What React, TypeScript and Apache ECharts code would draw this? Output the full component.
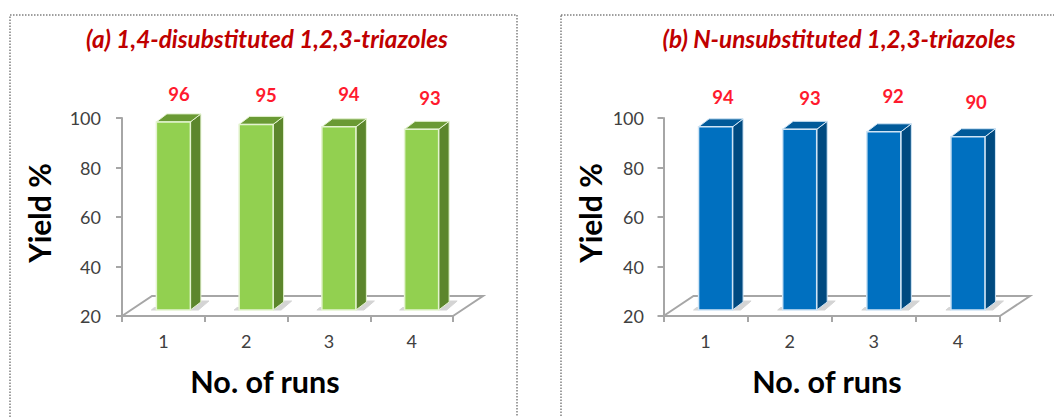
import React, { useEffect, useRef } from "react";
import * as echarts from "echarts";

const runs = ["1", "2", "3", "4"];
const yieldA = [96, 95, 94, 93];
const yieldB = [94, 93, 92, 90];
const titleA = "(a) 1,4-disubstituted 1,2,3-triazoles";
const titleB = "(b) N-unsubstituted 1,2,3-triazoles";

const FONT = "Lato";
const AXIS = "#a6a6a6";

const labelNudgeA = [[15.6, -34], [20, -35.5], [20, -39], [18.4, -37]];
const labelNudgeB = [[17.5, -36], [20.4, -37], [19.3, -42], [18.2, -41]];

function floorSeries(gridIndex: number) {
  return {
    type: "custom",
    xAxisIndex: gridIndex,
    yAxisIndex: gridIndex,
    silent: true,
    z: 1,
    clip: false,
    data: [[0, 20]],
    renderItem: (params: any) => {
      const c = params.coordSys;
      const b = c.y + c.height;
      return {
        type: "polyline",
        shape: { points: [[c.x, b], [c.x + 30, b - 20], [c.x + c.width + 30, b - 20], [c.x + c.width, b]] },
        style: { stroke: AXIS, lineWidth: 2, fill: null },
      };
    },
  };
}

function barSeries(gridIndex: number, values: number[], front: string, side: string, top: string, edge: string, nudge: number[][]) {
  return {
    type: "custom",
    xAxisIndex: gridIndex,
    yAxisIndex: gridIndex,
    silent: true,
    z: 3,
    clip: false,
    data: values.map((v, i) => [i, v]),
    encode: { x: 0, y: 1 },
    renderItem: (params: any, api: any) => {
      const i = api.value(0);
      const v = api.value(1);
      const p = api.coord([i, v]);
      const base = api.coord([i, 20]);
      const w = 34, dx = 10.5, dy = 8, lift = 6, shift = 10;
      const x0 = p[0] + shift - w / 2;
      const x1 = x0 + w;
      const yt = p[1] - lift;
      const yb = base[1] - lift;
      const poly = (pts: number[][], fill: string, stroke?: string, lw = 1) => ({
        type: "polygon",
        shape: { points: pts },
        style: { fill, stroke: stroke ?? fill, lineWidth: lw },
      });
      return {
        type: "group",
        children: [
          poly([[x1, yb], [x1 + dx, yb - dy - 1], [x1 + dx + 8, yb - dy - 1], [x1 + 8, yb]], "#d4d4d4"),
          poly([[x0 - 5, yb], [x0 - 2, yb - 2.5], [x0, yb - 2.5], [x0, yb]], "#d4d4d4"),
          poly([[x1, yt], [x1 + dx, yt - dy], [x1 + dx, yb - dy], [x1, yb]], side, edge, 1),
          poly([[x0, yt], [x0 + dx, yt - dy], [x1 + dx, yt - dy], [x1, yt]], top, edge, 1),
          { type: "rect", shape: { x: x0, y: yt, width: w, height: yb - yt }, style: { fill: front, stroke: edge, lineWidth: 1.5 } },
          {
            type: "text",
            style: {
              text: String(v),
              x: p[0] + nudge[i][0],
              y: p[1] + nudge[i][1],
              fill: "#ff1a2e",
              font: `bold 18.5px ${FONT}`,
              align: "center",
              verticalAlign: "middle",
            },
          },
        ],
      };
    },
  };
}

function axes(gridIndex: number, xNameShift: number, yNameGap: number, yLabelMargin: number) {
  return {
    x: {
      type: "category",
      gridIndex,
      data: runs,
      boundaryGap: true,
      name: "No. of runs",
      nameLocation: "middle",
      nameGap: 49,
      nameTextStyle: { fontFamily: FONT, fontWeight: "bold", fontSize: 30.5, color: "#000", padding: [0, xNameShift, 0, 0] },
      axisLine: { lineStyle: { color: AXIS, width: 2 } },
      axisTick: { show: true, length: 6, lineStyle: { color: AXIS, width: 2 } },
      axisLabel: { margin: 16, fontFamily: FONT, fontSize: 18, color: "#404040" },
      splitLine: { show: false },
    },
    y: {
      type: "value",
      gridIndex,
      min: 20,
      max: 100,
      interval: 20,
      name: "Yield %",
      nameLocation: "middle",
      nameGap: yNameGap,
      nameTextStyle: { fontFamily: FONT, fontWeight: "bold", fontSize: 30, color: "#000", padding: [0, 0, 0, 8] },
      axisLine: { show: true, lineStyle: { color: AXIS, width: 2 } },
      axisTick: { show: true, length: 6, lineStyle: { color: AXIS, width: 2 } },
      axisLabel: { margin: yLabelMargin, fontFamily: FONT, fontSize: 18, color: "#404040" },
      splitLine: { show: false },
    },
  };
}

export default function App() {
  const ref = useRef<HTMLDivElement>(null);
  useEffect(() => {
    if (!ref.current) return;
    const chart = echarts.init(ref.current, undefined, { renderer: "svg" });
    const a0 = axes(0, 45, 68, 21);
    const a1 = axes(1, 9.5, 59, 19.5);
    const frame = (x: number, width: number) => ({
      type: "rect",
      shape: { x, y: 15, width, height: 420 },
      style: { fill: "none", stroke: "#808080", lineWidth: 1.5, lineDash: [1.5, 1.5] },
      silent: true,
    });
    const titleStyle = { fontFamily: FONT, fontStyle: "italic", fontWeight: "bold", fontSize: 24.3, color: "#c00000" };
    chart.setOption({
      animation: false,
      backgroundColor: "#fff",
      title: [
        { text: titleA, left: 267, top: 38, padding: 0, textAlign: "center", textVerticalAlign: "middle", textStyle: titleStyle },
        { text: titleB, left: 839, top: 38, padding: 0, textAlign: "center", textVerticalAlign: "middle", textStyle: titleStyle },
      ],
      grid: [
        { left: 122, top: 118, width: 331, height: 198 },
        { left: 663.5, top: 118, width: 336.5, height: 198 },
      ],
      xAxis: [a0.x, a1.x],
      yAxis: [a0.y, a1.y],
      graphic: [frame(10, 507), frame(561, 520)],
      series: [
        floorSeries(0),
        floorSeries(1),
        barSeries(0, yieldA, "#92d050", "#5c862c", "#6a9a34", "#e4f3d0", labelNudgeA),
        barSeries(1, yieldB, "#0070c0", "#004a80", "#005a9a", "#cfe4f5", labelNudgeB),
      ],
    });
    return () => chart.dispose();
  }, []);
  return <div ref={ref} style={{ position: "absolute", left: 0, top: 0, width: 1054, height: 417, overflow: "hidden" }} />;
}
